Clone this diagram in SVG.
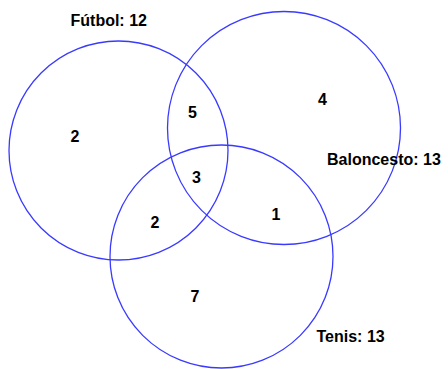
<svg xmlns="http://www.w3.org/2000/svg" width="448" height="369" viewBox="0 0 448 369">
<style>
.c{fill:none;stroke:#3a3aff;stroke-width:1.3}
.t{font-family:"Liberation Sans",Arial,sans-serif;font-weight:bold;font-size:16px;fill:#000}
.n{text-anchor:middle}
</style>
<rect width="448" height="369" fill="#fff"/>
<g id="futbol">
<circle class="c" cx="118.5" cy="150.5" r="109.5"/>
<text class="t" x="70.5" y="26">Fútbol: 12</text>
</g>
<g id="baloncesto">
<circle class="c" cx="284" cy="128" r="116.5"/>
<text class="t" x="327" y="165">Baloncesto: 13</text>
</g>
<g id="tenis">
<circle class="c" cx="221.5" cy="256.5" r="111.5"/>
<text class="t" x="316.5" y="341.5">Tenis: 13</text>
</g>
<g id="counts">
<text class="t n" x="75" y="142">2</text>
<text class="t n" x="192.5" y="117.5">5</text>
<text class="t n" x="322.5" y="105">4</text>
<text class="t n" x="196.5" y="182.5">3</text>
<text class="t n" x="155" y="227.5">2</text>
<text class="t n" x="276" y="220">1</text>
<text class="t n" x="195" y="302">7</text>
</g>
</svg>
